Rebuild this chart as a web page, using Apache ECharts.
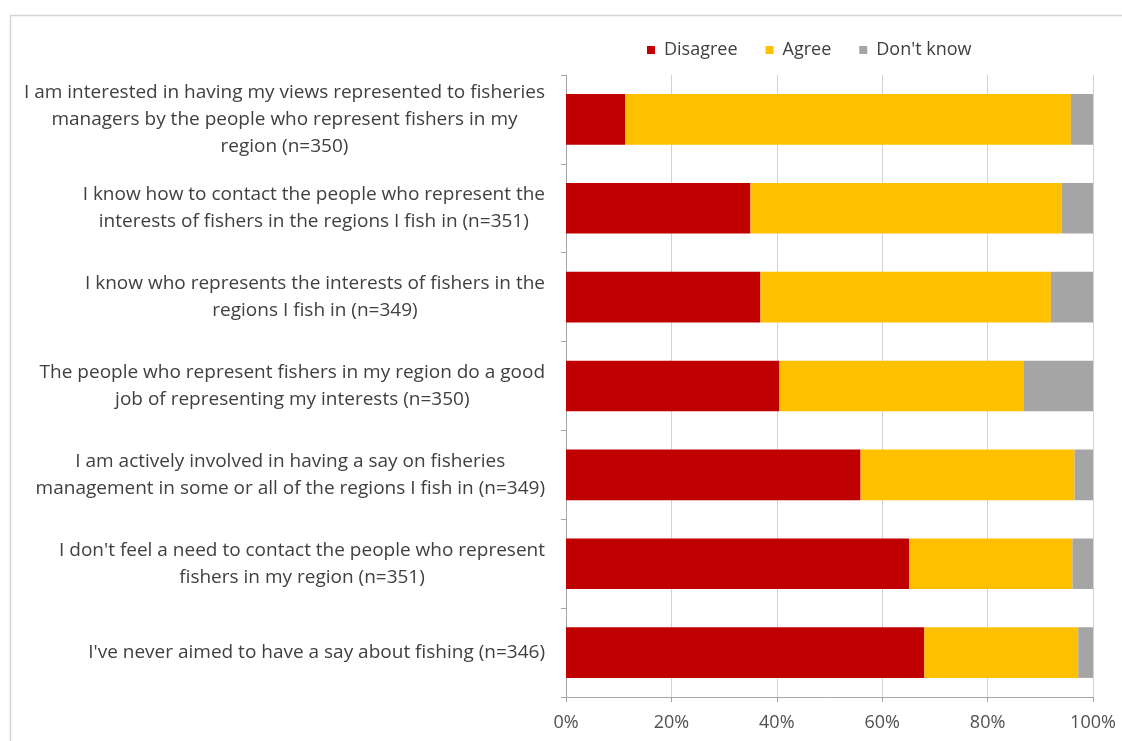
<!DOCTYPE html>
<html>
<head>
<meta charset="utf-8">
<script src="https://cdn.jsdelivr.net/npm/echarts@6/dist/echarts.min.js"></script>
<style>
  html, body { margin: 0; padding: 0; background: #ffffff; }
  #chart { width: 1122px; height: 741px; }
</style>
</head>
<body>
<div id="chart"></div>
<script>
// Survey statements, top to bottom, with their printed line breaks
const categories = [
  "I am interested in having my views represented to fisheries\nmanagers by the people who represent fishers in my\nregion (n=350)",
  "I know how to contact the people who represent the\ninterests of fishers in the regions I fish in (n=351)",
  "I know who represents the interests of fishers in the\nregions I fish in (n=349)",
  "The people who represent fishers in my region do a good\njob of representing my interests (n=350)",
  "I am actively involved in having a say on fisheries\nmanagement in some or all of the regions I fish in (n=349)",
  "I don't feel a need to contact the people who represent\nfishers in my region (n=351)",
  "I've never aimed to have a say about fishing (n=346)"
];

// Share of respondents (%) per answer
const disagree = [11.2, 35.0, 36.9, 40.5, 55.9, 65.1, 68.0];
const agree    = [84.6, 59.1, 55.1, 46.3, 40.6, 31.0, 29.2];
const dontKnow = [4.2, 5.9, 8.0, 13.2, 3.5, 3.9, 2.8];

const seriesNames = ["Disagree", "Agree", "Don't know"];
const xTicks = [0, 20, 40, 60, 80, 100];

const FONT = "'Open Sans', 'DejaVu Sans', sans-serif";
const colors = ["#C00000", "#FFC000", "#A5A5A5"];

const chart = echarts.init(document.getElementById('chart'), null, { renderer: 'canvas' });

function barSeries(name, data, color) {
  return {
    name: name,
    type: 'bar',
    stack: 'total',
    barCategoryGap: '43%',
    data: data,
    itemStyle: { color: color },
    emphasis: { disabled: true }
  };
}

chart.setOption({
  animation: false,
  backgroundColor: '#ffffff',
  color: colors,
  graphic: [{
    type: 'rect',
    left: 8, top: 13,
    shape: { width: 1130, height: 760 },
    style: { fill: 'none', stroke: '#d4d4d4', lineWidth: 1.5 },
    z: -10
  }],
  legend: {
    data: seriesNames,
    left: 642,
    top: 36,
    itemWidth: 8,
    itemHeight: 8,
    itemGap: 28,
    icon: 'rect',
    textStyle: { fontFamily: FONT, fontSize: 18, color: '#404040', padding: [0, 0, 0, 4] }
  },
  grid: { left: 566, right: 29, top: 75, bottom: 44, containLabel: false },
  xAxis: {
    type: 'value',
    min: xTicks[0],
    max: xTicks[xTicks.length - 1],
    interval: 20,
    axisLine: { show: true, lineStyle: { color: '#a6a6a6', width: 1 } },
    axisTick: { show: true, length: 5, lineStyle: { color: '#a6a6a6' } },
    axisLabel: {
      formatter: v => v + '%',
      margin: 17,
      fontFamily: FONT, fontSize: 18, color: '#505050'
    },
    splitLine: { show: true, lineStyle: { color: '#d2d2d2', width: 1 } }
  },
  yAxis: {
    type: 'category',
    inverse: true,
    data: categories,
    axisLine: { show: true, lineStyle: { color: '#a6a6a6', width: 1 } },
    axisTick: { show: true, length: 5, lineStyle: { color: '#a6a6a6' } },
    axisLabel: {
      margin: 21,
      color: '#404040',
      fontFamily: FONT,
      fontSize: 19,
      lineHeight: 27,
      formatter: v => v.split('\n').map(l => '{c|' + l + '}').join('\n'),
      rich: {
        c: { align: 'center', fontFamily: FONT, fontSize: 19, lineHeight: 27, color: '#404040' }
      }
    }
  },
  series: [
    barSeries(seriesNames[0], disagree, colors[0]),
    barSeries(seriesNames[1], agree, colors[1]),
    barSeries(seriesNames[2], dontKnow, colors[2])
  ]
});
</script>
</body>
</html>
